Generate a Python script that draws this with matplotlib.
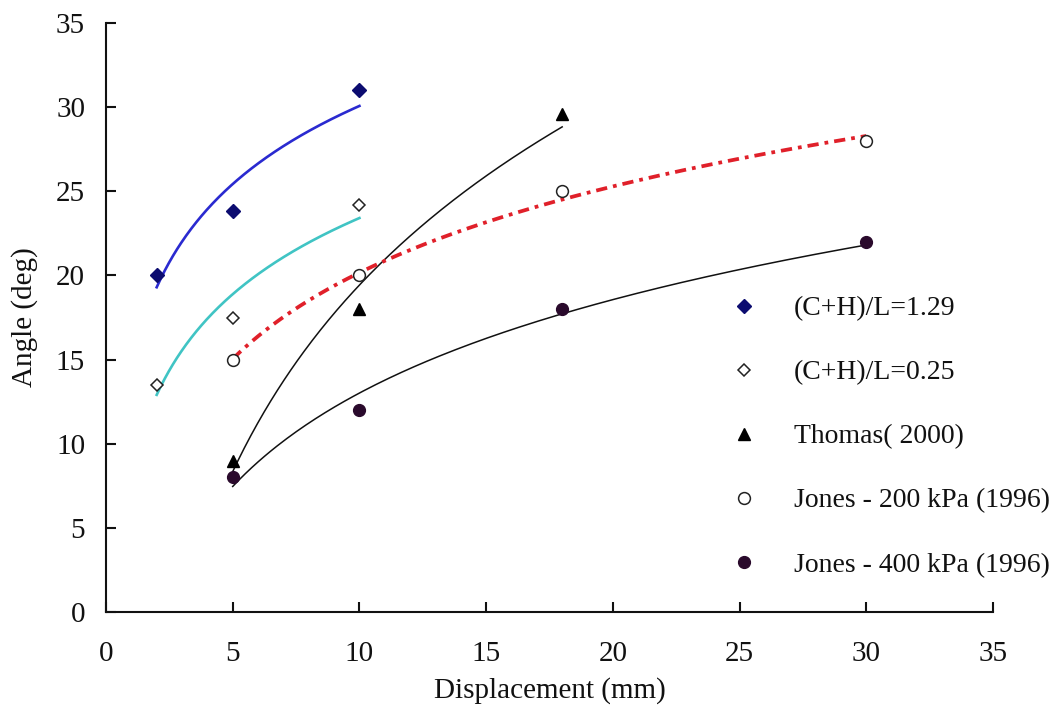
import numpy as np
import matplotlib
matplotlib.use("Agg")
import matplotlib.pyplot as plt

# ---- data ----
x_129 = [2, 5, 10]
y_129 = [20.0, 23.8, 31.0]
x_025 = [2, 5, 10]
y_025 = [13.5, 17.5, 24.2]
x_thomas = [5, 10, 18]
y_thomas = [9.0, 18.0, 29.6]
x_j200 = [5, 10, 18, 30]
y_j200 = [15.0, 20.0, 25.0, 28.0]
x_j400 = [5, 10, 18, 30]
y_j400 = [8.0, 12.0, 18.0, 22.0]

labels = ["(C+H)/L=1.29", "(C+H)/L=0.25", "Thomas( 2000)",
          "Jones - 200 kPa (1996)", "Jones - 400 kPa (1996)"]
xticks = [0, 5, 10, 15, 20, 25, 30, 35]
yticks = [0, 5, 10, 15, 20, 25, 30, 35]

plt.rcParams['font.family'] = ['Liberation Serif', 'DejaVu Serif']
FS = 21
LFS = 20

W, H = 1063, 706
fig = plt.figure(figsize=(W / 100, H / 100), dpi=100)
ax = fig.add_axes([106 / W, 1 - 612 / H, (993 - 106) / W, (612 - 23) / H])


def log_fit(xs, ys):
    a, b = np.polyfit(np.log(xs), ys, 1)
    xx = np.linspace(min(xs), max(xs), 200)
    return xx, a * np.log(xx) + b


# trend lines (logarithmic regressions of the data)
xx, yy = log_fit(x_129, y_129)
ax.plot(xx, yy, color='#2a2ad0', lw=1.9, zorder=2)
xx, yy = log_fit(x_025, y_025)
ax.plot(xx, yy, color='#40c4c4', lw=1.9, zorder=2)
xx, yy = log_fit(x_thomas, y_thomas)
ax.plot(xx, yy, color='#111111', lw=1.1, zorder=2)
xx, yy = log_fit(x_j200, y_j200)
ax.plot(xx, yy, color='#e0202a', lw=2.7, ls=(0, (3, 1.6, 1, 1.6)), zorder=2)
xx, yy = log_fit(x_j400, y_j400)
ax.plot(xx, yy, color='#111111', lw=1.1, zorder=2)

# markers
ax.plot(x_129, y_129, 'D', ms=7, color='#0c0c70', ls='none', label=labels[0], zorder=3)
ax.plot(x_025, y_025, 'D', ms=5.8, mfc='white', mec='#222222', mew=1.1, ls='none',
        label=labels[1], zorder=3)
ax.plot(x_thomas, y_thomas, '^', ms=8.5, color='#000000', ls='none', label=labels[2], zorder=3)
ax.plot(x_j200, y_j200, 'o', ms=8.5, mfc='white', mec='#222222', mew=1.1, ls='none',
        label=labels[3], zorder=3)
ax.plot(x_j400, y_j400, 'o', ms=8.5, color='#2a0a2c', ls='none', label=labels[4], zorder=3)

ax.set_xlim(0, 35)
ax.set_ylim(0, 35)
ax.set_xticks(xticks)
ax.set_yticks(yticks)
for s in ['top', 'right']:
    ax.spines[s].set_visible(False)
for s in ['left', 'bottom']:
    ax.spines[s].set_linewidth(1.5)
    ax.spines[s].set_color('#111111')
ax.tick_params(axis='both', direction='in', length=7, width=1.5, labelsize=FS,
               colors='#111111')
ax.tick_params(axis='y', pad=15)
ax.tick_params(axis='x', pad=21)

fig.text(25 / W, 1 - 317 / H, "Angle (deg)", rotation=90, ha='center', va='center',
         fontsize=FS, color='#111111')
fig.text(549.5 / W, 1 - 691 / H, "Displacement (mm)", ha='center', va='center',
         fontsize=FS, color='#111111')

leg = ax.legend(loc='upper left', bbox_to_anchor=(730 / W, 1 - 296 / H),
                bbox_transform=fig.transFigure, frameon=False, fontsize=LFS,
                handlelength=1.0, handletextpad=1.3, labelspacing=1.39,
                borderpad=0, borderaxespad=0, numpoints=1)
for t in leg.get_texts():
    t.set_color('#111111')

fig.savefig("out.png", dpi=100)
